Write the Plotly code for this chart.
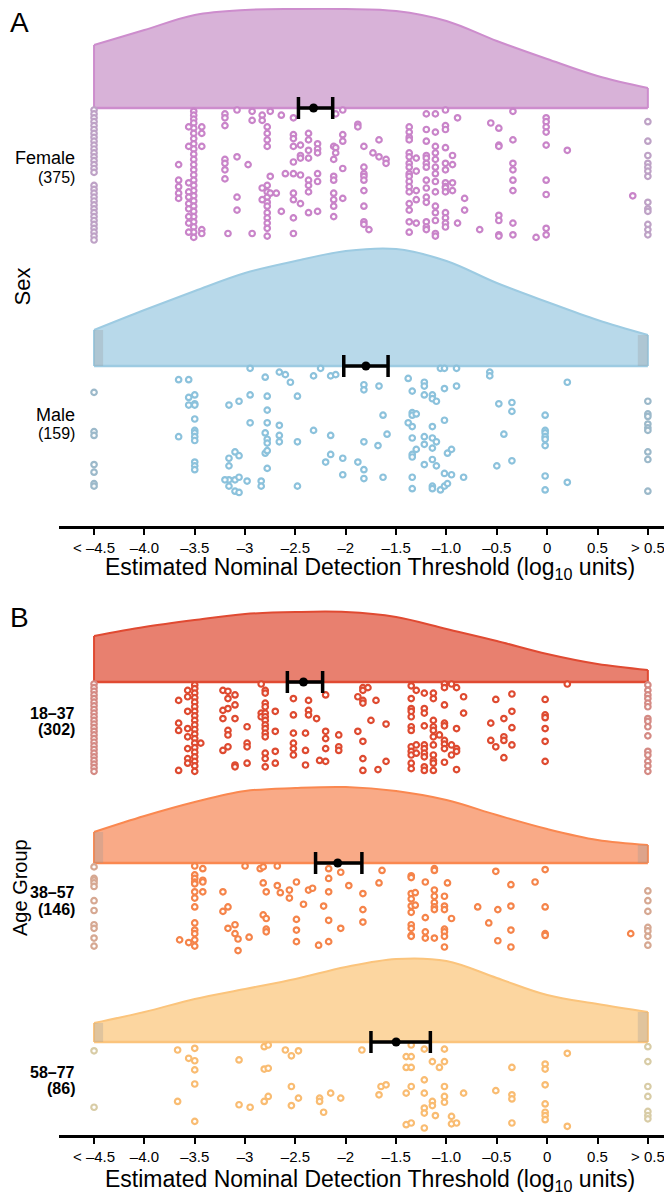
import plotly.graph_objects as go

# ---------------- DATA ----------------
X_TICKVALS = [-4.5, -4.0, -3.5, -3.0, -2.5, -2.0, -1.5, -1.0, -0.5, 0.0, 0.5, 1.0]
X_TICKTEXT = ["< –4.5", "–4.0", "–3.5", "–3", "–2.5", "–2", "–1.5", "–1.0", "–0.5", "0", "0.5", "> 0.5"]

SEX_GROUPS = ["Female", "Male"]
SEX_COUNTS = [375, 159]
AGE_GROUPS = ["18–37", "38–57", "58–77"]
AGE_COUNTS = [302, 146, 86]

# group means and 95% CI (log10 units)
SEX_MEAN = [-2.32, -1.80]
SEX_LO = [-2.47, -2.02]
SEX_HI = [-2.13, -1.58]
AGE_MEAN = [-2.42, -2.08, -1.50]
AGE_LO = [-2.58, -2.30, -1.75]
AGE_HI = [-2.23, -1.84, -1.16]

# density (cloud) outlines read at these x positions (log10 units); heights in relative units
DENS_X = [-4.5, -4.0, -3.5, -3.0, -2.5, -2.0, -1.5, -1.0, -0.5, 0.0, 0.5, 1.0]
female_dens_h = [63, 78, 93, 98, 99, 99, 97, 87, 67, 49, 32, 20]
male_dens_h = [36, 56, 75, 93, 105, 115, 117, 105, 83, 64, 46, 31]
a1837_dens_h = [46, 55, 62, 68, 70, 70, 65, 53, 41, 28, 18, 12]
a3857_dens_h = [31, 47, 61, 72, 75, 76, 72, 63, 48, 34, 23, 18]
a5877_dens_h = [19, 30, 43, 53, 63, 75, 83, 81, 64, 47, 38, 30]

# individual thresholds: (x value, [vertical jitter positions 0..1])
female_pts = [
    (-4.5, [0.0, 0.03, 0.06, 0.09, 0.12, 0.15, 0.18, 0.21, 0.24, 0.27, 0.30, 0.33, 0.36, 0.39, 0.42, 0.45, 0.48, 0.58, 0.61, 0.64, 0.67, 0.70, 0.73, 0.76, 0.79, 0.82, 0.85, 0.88, 0.91, 0.94, 0.97, 1.0]),
    (-3.51, [0.01, 0.04, 0.07, 0.10, 0.14, 0.18, 0.22, 0.26, 0.30, 0.34, 0.38, 0.42, 0.46, 0.50, 0.54, 0.58, 0.62, 0.66, 0.70, 0.74, 0.78, 0.82, 0.86, 0.90, 0.94, 0.98]),
    (-3.56, [0.13, 0.28, 0.56, 0.63, 0.67, 0.72, 0.76, 0.82, 0.87, 0.94]),
    (-3.43, [0.13, 0.18, 0.28, 0.92, 0.95]),
    (-3.66, [0.42, 0.54, 0.59, 0.64, 0.68]),
    (-3.20, [0.03, 0.06, 0.12, 0.38, 0.41, 0.46, 0.53]),
    (-3.17, [0.95]),
    (-3.08, [0.0, 0.36, 0.67, 0.77]),
    (-2.93, [0.01, 0.08, 0.95]),
    (-2.97, [0.42]),
    (-2.78, [0.13, 0.18, 0.23, 0.28, 0.58, 0.63, 0.67, 0.71, 0.74, 0.79, 0.83, 0.87, 0.91, 0.97]),
    (-2.83, [0.04, 0.08, 0.60, 0.69]),
    (-2.75, [0.01, 0.51, 0.64]),
    (-2.69, [0.64]),
    (-2.64, [0.04, 0.78]),
    (-2.60, [0.49]),
    (-2.52, [0.06, 0.19, 0.22, 0.28, 0.40, 0.49, 0.64, 0.69, 0.83, 0.95]),
    (-2.45, [0.27, 0.35, 0.37, 0.50, 0.72]),
    (-2.37, [0.18, 0.23, 0.31, 0.37, 0.54, 0.58, 0.63, 0.79]),
    (-2.28, [0.26, 0.30, 0.33, 0.49, 0.55, 0.78]),
    (-2.12, [0.28, 0.38, 0.51, 0.54, 0.64, 0.69, 0.74, 0.82]),
    (-2.03, [0.0, 0.19, 0.24, 0.45, 0.68]),
    (-2.10, [0.03, 0.29, 0.33]),
    (-1.88, [0.11, 0.13]),
    (-1.82, [0.28, 0.44, 0.49, 0.51, 0.54, 0.62, 0.74, 0.86, 0.88]),
    (-1.77, [0.92]),
    (-1.73, [0.33]),
    (-1.67, [0.23, 0.36]),
    (-1.60, [0.38, 0.41]),
    (-1.37, [0.13, 0.17, 0.21, 0.23, 0.33, 0.36, 0.41, 0.44, 0.49, 0.51, 0.55, 0.59, 0.63, 0.72, 0.77, 0.86, 0.94]),
    (-1.30, [0.37, 0.47, 0.62, 0.69, 0.87]),
    (-1.20, [0.03, 0.15, 0.24, 0.35, 0.37, 0.41, 0.44, 0.54, 0.60, 0.67, 0.71, 0.86, 0.90, 0.92]),
    (-1.11, [0.03, 0.17, 0.28, 0.33, 0.38, 0.44, 0.49, 0.55, 0.63, 0.74, 0.79, 0.85, 0.95, 0.97]),
    (-1.01, [0.0, 0.12, 0.15, 0.29, 0.41, 0.46, 0.56, 0.59, 0.60, 0.63, 0.79, 0.83, 0.87, 0.90]),
    (-0.94, [0.35, 0.42, 0.56, 0.62]),
    (-0.89, [0.06, 0.87]),
    (-0.82, [0.68, 0.77]),
    (-0.67, [0.92]),
    (-0.56, [0.10]),
    (-0.48, [0.14, 0.27, 0.28, 0.81, 0.85, 0.96, 0.97]),
    (-0.34, [0.01, 0.23, 0.41, 0.46, 0.54, 0.62, 0.87, 0.96]),
    (-0.11, [0.98]),
    (-0.01, [0.06, 0.09, 0.13, 0.17, 0.27, 0.54, 0.65, 0.91, 0.96]),
    (0.20, [0.31]),
    (0.85, [0.66]),
    (1.0, [0.09, 0.24, 0.35, 0.41, 0.44, 0.47, 0.51, 0.71, 0.76, 0.78, 0.88, 0.92, 0.96]),
]

male_pts = [
    (-4.5, [0.19, 0.50, 0.53, 0.76, 0.82, 0.91, 0.93]),
    (-3.66, [0.09, 0.54]),
    (-3.56, [0.09, 0.23, 0.29]),
    (-3.50, [0.21, 0.28, 0.29, 0.40, 0.49, 0.51, 0.54, 0.57, 0.74, 0.77, 0.80]),
    (-3.16, [0.29, 0.71, 0.77, 0.88, 0.93]),
    (-3.10, [0.66, 0.88, 0.97]),
    (-3.06, [0.26, 0.69, 0.86, 0.98]),
    (-3.20, [0.88]),
    (-2.98, [0.89]),
    (-2.95, [0.0, 0.21, 0.43]),
    (-2.84, [0.89, 0.93]),
    (-2.80, [0.07, 0.51, 0.67]),
    (-2.78, [0.22, 0.33, 0.43, 0.56, 0.59, 0.65, 0.79]),
    (-2.66, [0.03, 0.45, 0.53, 0.58]),
    (-2.60, [0.05]),
    (-2.55, [0.11]),
    (-2.48, [0.22, 0.58, 0.93]),
    (-2.32, [0.06, 0.49]),
    (-2.25, [0.0]),
    (-2.20, [0.74]),
    (-2.15, [0.06, 0.53, 0.68]),
    (-2.10, [0.05]),
    (-2.03, [0.71, 0.84]),
    (-1.88, [0.74]),
    (-1.82, [0.13, 0.17, 0.58, 0.80, 0.87]),
    (-1.68, [0.61]),
    (-1.67, [0.14]),
    (-1.63, [0.37, 0.86]),
    (-1.59, [0.52]),
    (-1.38, [0.08, 0.43]),
    (-1.34, [0.18, 0.35, 0.37, 0.46, 0.55, 0.68, 0.70, 0.86, 0.95]),
    (-1.30, [0.36, 0.64]),
    (-1.22, [0.11, 0.14, 0.21, 0.54, 0.60, 0.76]),
    (-1.14, [0.21, 0.24, 0.46, 0.55, 0.63, 0.72, 0.93, 0.95]),
    (-1.10, [0.26, 0.58, 0.77]),
    (-1.06, [0.0, 0.96]),
    (-1.02, [0.0, 0.16, 0.41, 0.83, 0.93]),
    (-0.99, [0.67, 0.91]),
    (-0.95, [0.64, 0.84]),
    (-0.90, [0.0, 0.14]),
    (-0.83, [0.86]),
    (-0.57, [0.03, 0.06]),
    (-0.50, [0.77]),
    (-0.48, [0.28]),
    (-0.43, [0.52]),
    (-0.35, [0.27, 0.34, 0.73]),
    (-0.02, [0.37, 0.49, 0.51, 0.54, 0.56, 0.61, 0.85, 0.96]),
    (0.20, [0.11, 0.90]),
    (1.0, [0.26, 0.36, 0.38, 0.44, 0.47, 0.49, 0.66, 0.72, 0.97]),
]

a1837_pts = [
    (-4.5, [0.0, 0.04, 0.08, 0.12, 0.16, 0.20, 0.24, 0.28, 0.32, 0.36, 0.40, 0.44, 0.48, 0.52, 0.56, 0.60, 0.64, 0.68, 0.72, 0.76, 0.80, 0.84, 0.88, 0.92, 0.96]),
    (-3.66, [0.18, 0.43, 0.51, 0.95]),
    (-3.57, [0.07, 0.14, 0.30, 0.49, 0.58, 0.71, 0.82, 0.87]),
    (-3.50, [0.01, 0.05, 0.10, 0.15, 0.20, 0.25, 0.30, 0.35, 0.40, 0.45, 0.50, 0.55, 0.60, 0.65, 0.70, 0.75, 0.80, 0.85, 0.90, 0.96]),
    (-3.44, [0.65]),
    (-3.22, [0.07, 0.29, 0.38, 0.73]),
    (-3.17, [0.08, 0.16, 0.27, 0.51, 0.56, 0.69]),
    (-3.10, [0.12, 0.23, 0.38, 0.89, 0.91]),
    (-2.98, [0.47, 0.65, 0.69, 0.87]),
    (-2.84, [0.0, 0.32, 0.36]),
    (-2.80, [0.07, 0.10, 0.21, 0.25, 0.32, 0.36, 0.40, 0.45, 0.49, 0.54, 0.58, 0.76, 0.82, 0.91]),
    (-2.70, [0.30, 0.52, 0.74, 0.87]),
    (-2.52, [0.16, 0.34, 0.54, 0.65, 0.71, 0.78]),
    (-2.40, [0.54, 0.73, 0.89]),
    (-2.37, [0.18, 0.29, 0.34]),
    (-2.29, [0.38]),
    (-2.26, [0.84]),
    (-2.20, [0.12, 0.52, 0.60, 0.71, 0.85]),
    (-2.07, [0.56, 0.69, 0.73]),
    (-1.88, [0.14, 0.52]),
    (-1.83, [0.04, 0.07, 0.18, 0.21, 0.63, 0.82, 0.95]),
    (-1.78, [0.04]),
    (-1.75, [0.40]),
    (-1.70, [0.18]),
    (-1.68, [0.94]),
    (-1.60, [0.44, 0.85]),
    (-1.35, [0.02, 0.16, 0.27, 0.30, 0.36, 0.47, 0.51, 0.69, 0.74, 0.78, 0.87, 0.93]),
    (-1.30, [0.07, 0.67, 0.76]),
    (-1.22, [0.10, 0.27, 0.32, 0.46, 0.67, 0.71, 0.76, 0.80, 0.91, 0.95]),
    (-1.13, [0.10, 0.16, 0.40, 0.47, 0.51, 0.58, 0.67, 0.78, 0.84, 0.87, 0.95]),
    (-1.07, [0.56]),
    (-1.02, [0.0, 0.04, 0.23, 0.43, 0.46, 0.62, 0.66, 0.71, 0.86]),
    (-0.95, [0.0, 0.67, 0.78]),
    (-0.90, [0.04, 0.49, 0.71, 0.74, 0.94]),
    (-0.83, [0.14, 0.32]),
    (-0.56, [0.43, 0.62]),
    (-0.51, [0.17, 0.69]),
    (-0.43, [0.38, 0.58, 0.62, 0.81]),
    (-0.35, [0.11, 0.30, 0.48, 0.67]),
    (-0.02, [0.17, 0.34, 0.37, 0.49, 0.63, 0.85]),
    (0.20, [0.0]),
    (1.0, [0.01, 0.07, 0.12, 0.16, 0.21, 0.25, 0.38, 0.41, 0.47, 0.57, 0.74, 0.78, 0.85, 0.90, 0.96]),
]

a3857_pts = [
    (-4.5, [0.01, 0.14, 0.16, 0.19, 0.23, 0.39, 0.50, 0.66, 0.70, 0.81, 0.90]),
    (-3.65, [0.83]),
    (-3.56, [0.86]),
    (-3.50, [0.0, 0.10, 0.14, 0.18, 0.20, 0.29, 0.36, 0.46, 0.64, 0.72, 0.76, 0.83, 0.90]),
    (-3.42, [0.03, 0.16, 0.18, 0.29]),
    (-3.22, [0.29, 0.51]),
    (-3.17, [0.46, 0.70]),
    (-3.10, [0.66, 0.76]),
    (-3.07, [0.82, 0.95]),
    (-3.0, [0.0]),
    (-2.96, [0.80]),
    (-2.85, [0.03]),
    (-2.82, [0.01, 0.19, 0.55]),
    (-2.79, [0.29, 0.59, 0.71, 0.74]),
    (-2.68, [0.0, 0.22]),
    (-2.65, [0.30]),
    (-2.56, [0.27, 0.36]),
    (-2.49, [0.18, 0.60, 0.72, 0.85]),
    (-2.42, [0.43]),
    (-2.37, [0.27]),
    (-2.33, [0.25]),
    (-2.27, [0.89]),
    (-2.22, [0.45]),
    (-2.17, [0.03, 0.14, 0.29, 0.61, 0.85]),
    (-2.05, [0.07, 0.70]),
    (-1.97, [0.22]),
    (-1.83, [0.31, 0.49, 0.63]),
    (-1.67, [0.19]),
    (-1.64, [0.05]),
    (-1.35, [0.11, 0.13, 0.31, 0.37, 0.45, 0.52, 0.66, 0.70, 0.78, 0.79]),
    (-1.31, [0.30, 0.44]),
    (-1.21, [0.18, 0.58, 0.74, 0.81]),
    (-1.12, [0.03, 0.05, 0.27, 0.34, 0.41, 0.46, 0.49, 0.81]),
    (-1.02, [0.34, 0.45, 0.49, 0.71, 0.74, 0.79, 0.91]),
    (-0.99, [0.19]),
    (-0.95, [0.59]),
    (-0.69, [0.46]),
    (-0.58, [0.64]),
    (-0.51, [0.06]),
    (-0.49, [0.49, 0.84]),
    (-0.36, [0.21, 0.45, 0.72, 0.91]),
    (-0.12, [0.18]),
    (-0.02, [0.04, 0.46, 0.76, 0.78]),
    (0.83, [0.76]),
    (1.0, [0.28, 0.39, 0.51, 0.69, 0.73, 0.79, 0.89]),
]

a5877_pts = [
    (-4.5, [0.07, 0.75]),
    (-3.67, [0.06, 0.68]),
    (-3.56, [0.16]),
    (-3.50, [0.04, 0.19, 0.30, 0.47, 0.92]),
    (-3.06, [0.18, 0.72]),
    (-2.95, [0.75]),
    (-2.81, [0.02, 0.29, 0.68]),
    (-2.77, [0.0, 0.28, 0.62]),
    (-2.60, [0.06]),
    (-2.54, [0.13, 0.50, 0.73]),
    (-2.47, [0.07, 0.64]),
    (-2.26, [0.64, 0.68]),
    (-2.22, [0.81]),
    (-2.15, [0.58]),
    (-2.05, [0.64]),
    (-1.84, [0.06]),
    (-1.67, [0.60]),
    (-1.65, [0.50]),
    (-1.60, [0.48]),
    (-1.40, [0.14, 0.27, 0.58, 0.96]),
    (-1.35, [0.0, 0.14, 0.27, 0.50, 0.94]),
    (-1.22, [0.05, 0.42, 0.58, 0.76, 0.82, 1.0]),
    (-1.14, [0.20, 0.68, 0.73]),
    (-1.11, [0.85]),
    (-1.07, [0.27]),
    (-1.02, [0.05, 0.20, 0.50, 0.62, 0.69]),
    (-0.95, [0.86, 0.95]),
    (-0.90, [0.94]),
    (-0.83, [0.58]),
    (-0.51, [0.55]),
    (-0.35, [0.27, 0.60, 0.65, 0.94]),
    (-0.02, [0.23, 0.29, 0.48, 0.71, 0.81, 0.85, 0.90]),
    (0.20, [0.10, 0.98]),
    (1.0, [0.02, 0.20, 0.50, 0.62, 0.80, 0.85, 0.89]),
]

# ---------------- STYLE / LAYOUT ----------------
FONT = "Liberation Sans, Arial, Helvetica, sans-serif"

# the page body has an 8 px margin; the figure is sized so its right/bottom edges meet the window
FIG_W, FIG_H = 664, 1192
PLOT_TOP, PLOT_BOTTOM = 8, 1135          # page pixels of plot area
PLOT_H = PLOT_BOTTOM - PLOT_TOP
PLOT_LEFT, PLOT_W = 59, 609              # page pixels


def paper_y(page_px):
    return (PLOT_BOTTOM - page_px) / PLOT_H


def paper_x(page_px):
    return (page_px - PLOT_LEFT) / PLOT_W


A_AXIS_PX = 526
A_RANGE = A_AXIS_PX - PLOT_TOP           # 1 data unit = 1 px
B_TOP_PX = 600
B_RANGE = PLOT_BOTTOM - B_TOP_PX

groups = [
    dict(name="Female", n=SEX_COUNTS[0], pts=female_pts, dh=female_dens_h,
         mean=SEX_MEAN[0], lo=SEX_LO[0], hi=SEX_HI[0], xa="x", ya="y",
         base=418, top=416, span=130, fill="#d8b2d8", line="#cd8dcd", pt="#c984c9", cens="#bea2c6",
         edge=False, lab_y=(368, 349), lab_size=(18, 16), bold=False),
    dict(name="Male", n=SEX_COUNTS[1], pts=male_pts, dh=male_dens_h,
         mean=SEX_MEAN[1], lo=SEX_LO[1], hi=SEX_HI[1], xa="x", ya="y",
         base=160, top=157.7, span=126.7, fill="#b8d9ea", line="#9dcbe2", pt="#8cc2dc", cens="#9cb9ca",
         edge=True, lab_y=(111, 93), lab_size=(18, 16), bold=False),
    dict(name=AGE_GROUPS[0], n=AGE_COUNTS[0], pts=a1837_pts, dh=a1837_dens_h,
         mean=AGE_MEAN[0], lo=AGE_LO[0], hi=AGE_HI[0], xa="x2", ya="y2",
         base=453, top=451, span=91, fill="#e8806f", line="#e04a32", pt="#de4a30", cens="#d48a84",
         edge=False, lab_y=(422, 406), lab_size=(16, 16), bold=True),
    dict(name=AGE_GROUPS[1], n=AGE_COUNTS[1], pts=a3857_pts, dh=a3857_dens_h,
         mean=AGE_MEAN[1], lo=AGE_LO[1], hi=AGE_HI[1], xa="x2", ya="y2",
         base=272, top=269, span=89, fill="#f9aa87", line="#fa8850", pt="#f5844a", cens="#d6a892",
         edge=True, lab_y=(243, 226), lab_size=(16, 16), bold=True),
    dict(name=AGE_GROUPS[2], n=AGE_COUNTS[2], pts=a5877_pts, dh=a5877_dens_h,
         mean=AGE_MEAN[2], lo=AGE_LO[2], hi=AGE_HI[2], xa="x2", ya="y2",
         base=93, top=90, span=83, fill="#fcd6a0", line="#fbc47c", pt="#f9bc72", cens="#d8cca6",
         edge=True, lab_y=(63, 47), lab_size=(16, 16), bold=True),
]

fig = go.Figure()
shapes = []
annotations = []

for g in groups:
    base = g["base"]
    dx, dh = DENS_X, g["dh"]
    # baseline
    fig.add_trace(go.Scatter(x=[dx[0], dx[-1]], y=[base, base], mode="lines",
                             line=dict(color=g["line"], width=2.5), xaxis=g["xa"], yaxis=g["ya"],
                             hoverinfo="skip", showlegend=False))
    # cloud top
    fig.add_trace(go.Scatter(x=dx, y=[base + h for h in dh], mode="lines",
                             line=dict(color=g["line"], width=2, shape="spline", smoothing=1.0),
                             fill="tonexty", fillcolor=g["fill"], xaxis=g["xa"], yaxis=g["ya"],
                             hoverinfo="skip", showlegend=False))
    # vertical ends
    fig.add_trace(go.Scatter(x=[dx[0], dx[0], None, dx[-1], dx[-1]],
                             y=[base, base + dh[0], None, base, base + dh[-1]], mode="lines",
                             line=dict(color=g["line"], width=2), xaxis=g["xa"], yaxis=g["ya"],
                             hoverinfo="skip", showlegend=False))
    if g["edge"]:
        for x0, x1, h in [(-4.5, -4.41, dh[0]), (0.9, 1.0, dh[-1])]:
            shapes.append(dict(type="rect", xref=g["xa"], yref=g["ya"], x0=x0, x1=x1, y0=base, y1=base + h,
                               fillcolor="rgba(150,150,150,0.28)", line=dict(width=0), layer="above"))
    # points
    xs, ys, cs = [], [], []
    for xv, fr in g["pts"]:
        for f in fr:
            xs.append(xv)
            ys.append(g["top"] - f * g["span"])
            cs.append(g["cens"] if (xv <= -4.5 or xv >= 1.0) else g["pt"])
    fig.add_trace(go.Scatter(x=xs, y=ys, mode="markers",
                             marker=dict(symbol="circle", size=5.5, color="rgba(255,255,255,0.9)",
                                         line=dict(color=cs, width=2.2)),
                             xaxis=g["xa"], yaxis=g["ya"], hoverinfo="skip", showlegend=False))
    # mean and CI
    fig.add_trace(go.Scatter(x=[g["mean"]], y=[base], mode="markers",
                             marker=dict(color="black", size=9),
                             error_x=dict(type="data", symmetric=False, array=[g["hi"] - g["mean"]],
                                          arrayminus=[g["mean"] - g["lo"]], color="black",
                                          thickness=3.5, width=11),
                             xaxis=g["xa"], yaxis=g["ya"], hoverinfo="skip", showlegend=False))
    # labels
    wt = "bold" if g["bold"] else "normal"
    annotations.append(dict(text=g["name"], xref="paper", yref=g["ya"], x=paper_x(77), y=g["lab_y"][0],
                            xanchor="right", yanchor="middle", showarrow=False,
                            font=dict(family=FONT, size=g["lab_size"][0], color="black", weight=wt)))
    annotations.append(dict(text="(%d)" % g["n"], xref="paper", yref=g["ya"], x=paper_x(77), y=g["lab_y"][1],
                            xanchor="right", yanchor="middle", showarrow=False,
                            font=dict(family=FONT, size=g["lab_size"][1], color="black", weight=wt)))

TITLE = "Estimated Nominal Detection Threshold (log<sub>10</sub> units)"
annotations += [
    dict(text="A", xref="paper", yref="paper", x=paper_x(8), y=paper_y(23), xanchor="left", yanchor="middle",
         showarrow=False, font=dict(family=FONT, size=28, color="black")),
    dict(text="B", xref="paper", yref="paper", x=paper_x(8), y=paper_y(617), xanchor="left", yanchor="middle",
         showarrow=False, font=dict(family=FONT, size=28, color="black")),
    dict(text="Sex", xref="paper", yref="paper", x=paper_x(8), y=paper_y(287), xanchor="left", yanchor="middle",
         textangle=-90, showarrow=False, borderpad=0, font=dict(family=FONT, size=22, color="black")),
    dict(text="Age Group", xref="paper", yref="paper", x=paper_x(8), y=paper_y(888), xanchor="left",
         yanchor="middle", textangle=-90, showarrow=False, borderpad=0,
         font=dict(family=FONT, size=20, color="black")),
    dict(text=TITLE, xref="paper", yref="paper", x=paper_x(370), y=paper_y(568), xanchor="center",
         yanchor="middle", showarrow=False, font=dict(family=FONT, size=23, color="black")),
    dict(text=TITLE, xref="paper", yref="paper", x=paper_x(370), y=paper_y(1180), xanchor="center",
         yanchor="middle", showarrow=False, font=dict(family=FONT, size=23, color="black")),
]

xaxis_style = dict(range=[-4.848, 1.2], showline=True, linecolor="black", linewidth=3,
                   ticks="outside", ticklen=6, tickwidth=2, tickcolor="black",
                   tickvals=X_TICKVALS, ticktext=X_TICKTEXT,
                   tickfont=dict(family=FONT, size=15, color="black"),
                   showgrid=False, zeroline=False, fixedrange=True, automargin=False)

fig.update_layout(
    width=FIG_W, height=FIG_H,
    margin=dict(l=PLOT_LEFT - 8, r=4, t=PLOT_TOP - 8, b=FIG_H - (PLOT_BOTTOM - 8)),
    paper_bgcolor="white", plot_bgcolor="white",
    showlegend=False,
    xaxis=dict(domain=[0, 1], anchor="y", **xaxis_style),
    yaxis=dict(domain=[paper_y(A_AXIS_PX), 1], range=[0, A_RANGE], visible=False, fixedrange=True),
    xaxis2=dict(domain=[0, 1], anchor="y2", **xaxis_style),
    yaxis2=dict(domain=[0, paper_y(B_TOP_PX)], range=[0, B_RANGE], visible=False, fixedrange=True),
    shapes=shapes,
    annotations=annotations,
)

fig.write_html("out.html")
